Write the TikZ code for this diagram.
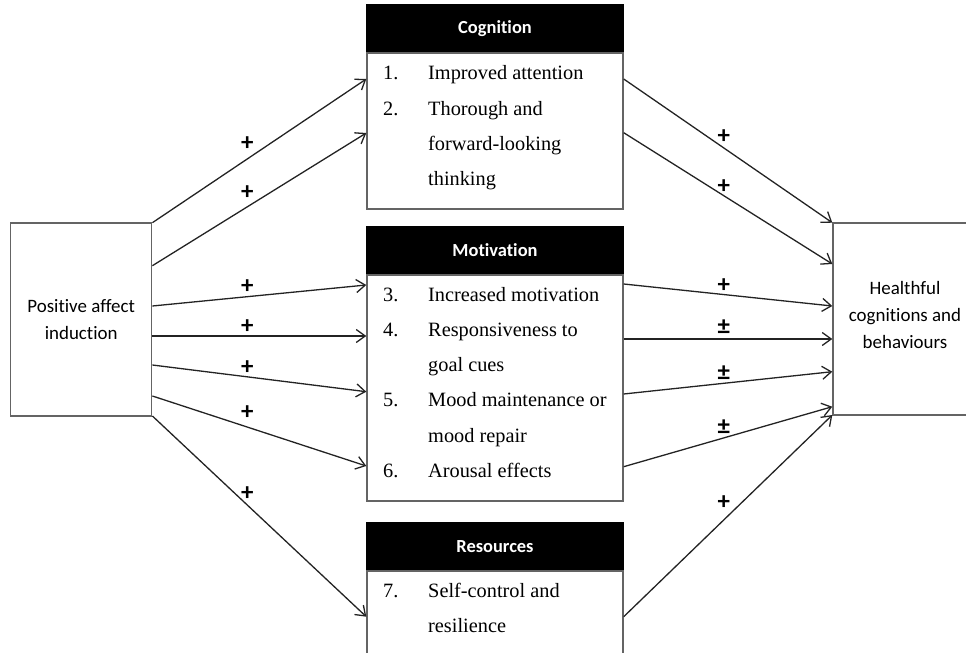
\documentclass[tikz,border=0pt]{standalone}
\usepackage{fontspec}
\setmainfont{Liberation Serif}
\setsansfont{Carlito}[Ligatures=NoCommon]
\usetikzlibrary{arrows.meta,positioning}
\definecolor{boxgray}{RGB}{100,100,100}
\definecolor{arrowgray}{RGB}{35,35,35}

\begin{document}
\begin{tikzpicture}[x=1bp,y=-1bp,
    box/.style={draw=boxgray,line width=1.4bp,inner sep=0pt},
    headbox/.style={draw=black,fill=black,text=white,line width=1.3bp,inner sep=0pt,
      minimum width=256bp,minimum height=47bp,font=\sffamily\bfseries\fontsize{18.5}{20}\selectfont},
    sidetxt/.style={align=center,font=\sffamily\fontsize{19}{27.5}\selectfont},
    listtxt/.style={anchor=base west,inner sep=0pt,font=\fontsize{20.4}{35.4}\selectfont},
    arr/.style={draw=arrowgray,line width=1.3bp,-{Straight Barb[length=9bp,width=13bp]}},
    sgn/.style={inner sep=0pt,font=\sffamily\bfseries\fontsize{25}{27}\selectfont}]
  \useasboundingbox (0,0) rectangle (966,653);
  \clip (0,0) rectangle (966,653);
  % Outer boxes
  \node[box,sidetxt,minimum width=141bp,minimum height=193bp] (pai) at (81.2,319.5)
    {Positive affect\\induction};
  \node[box,minimum width=144bp,minimum height=192bp] (hcb) at (905,319) {};
  \node[sidetxt] (hcbtxt) at (905,315) {Healthful\\cognitions and\\behaviours};
  % Mediator boxes
  \node[box,minimum width=256bp,minimum height=156bp] (cog) at (495,131) {};
  \node[headbox,above=0pt of cog] (coghead) {Cognition};
  \node[box,minimum width=256bp,minimum height=226bp] (mot) at (495,388) {};
  \node[headbox,above=0pt of mot] (mothead) {Motivation};
  \node[box,minimum width=256bp,minimum height=129bp] (res) at (495,635.5) {};
  \node[headbox,above=0pt of res] (reshead) {Resources};
  % Item lists
  \node[listtxt] (coglist) at (383,80) {\begin{tabular}[t]{@{}p{45bp}@{}l@{}}
    1.&Improved attention\\2.&Thorough and\\&forward-looking\\&thinking\end{tabular}};
  \node[listtxt] (motlist) at (383,301) {\begin{tabular}[t]{@{}p{45bp}@{}l@{}}
    3.&Increased motivation\\4.&Responsiveness to\\&goal cues\\
    5.&Mood maintenance or\\&mood repair\\6.&Arousal effects\end{tabular}};
  \node[listtxt,font=\fontsize{20.4}{36}\selectfont] (reslist) at (383,597) {\begin{tabular}[t]{@{}p{45bp}@{}l@{}}
    7.&Self-control and\\&resilience\end{tabular}};
  % Paths from induction
  \foreach \ys/\trg/\ye/\lift/\n in {222.7/cog/79/15bp/1,265.7/cog/133/14bp/2,
      306/mot/285/10bp/3,336/mot/336/9bp/4,365/mot/391.7/9bp/5,396/mot/466/14bp/6,
      416/res/616.7/12bp/7}
    \draw[arr] (pai.east |- 0,\ys) -- (\trg.west |- 0,\ye)
      node[sgn,pos=.444,yshift=\lift] (pin\n) {+};
  % Paths to outcomes
  \foreach \ys/\src/\ye/\lbl/\lift/\n in {79/cog/222.7/+/11bp/1,132.7/cog/264/+/9bp/2,
      284/mot/306/+/8.5bp/3,339/mot/339/±/12bp/4,394/mot/371.7/±/10bp/5,
      466.7/mot/406.7/±/11bp/6,616.7/res/415/+/17.5bp/7}
    \draw[arr] (\src.east |- 0,\ys) -- (hcb.west |- 0,\ye)
      node[sgn,pos=.48,yshift=\lift] (pout\n) {\lbl};
\end{tikzpicture}
\end{document}
